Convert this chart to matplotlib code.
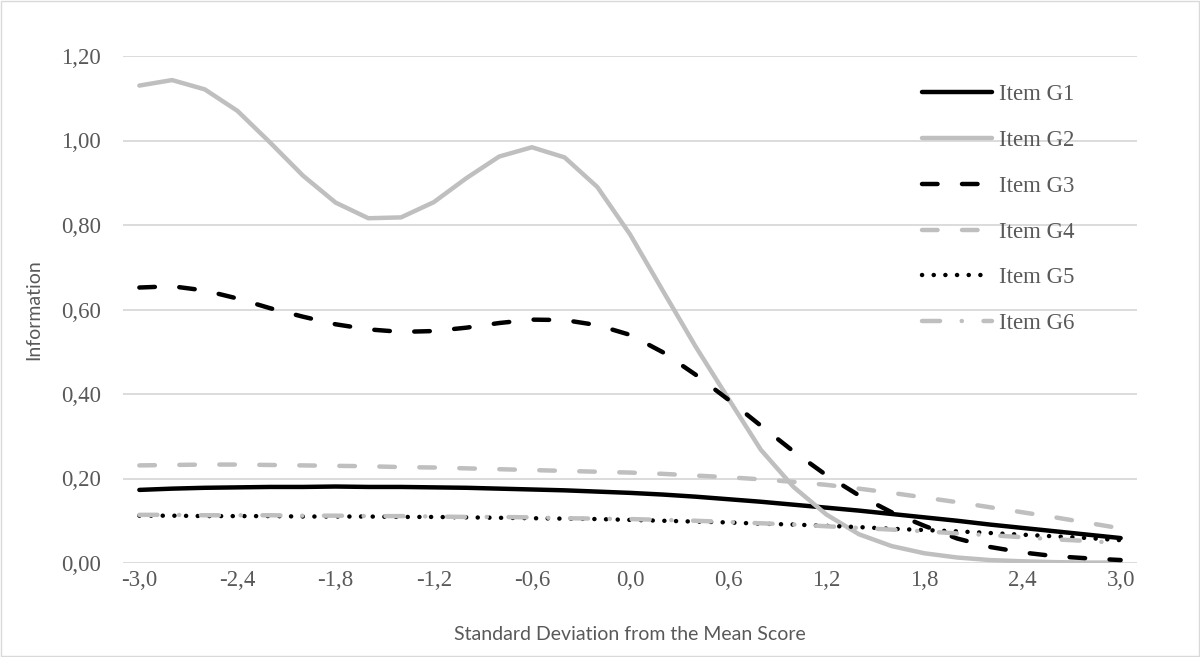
import numpy as np
import matplotlib
matplotlib.use("Agg")
import matplotlib.pyplot as plt
from matplotlib.patches import Rectangle

# x categories (standard deviations from the mean)
sd = [-3.0, -2.8, -2.6, -2.4, -2.2, -2.0, -1.8, -1.6, -1.4, -1.2, -1.0,
      -0.8, -0.6, -0.4, -0.2, 0.0, 0.2, 0.4, 0.6, 0.8, 1.0,
      1.2, 1.4, 1.6, 1.8, 2.0, 2.2, 2.4, 2.6, 2.8, 3.0]

item_g1 = [0.173, 0.176, 0.178, 0.179, 0.180, 0.180, 0.181, 0.180, 0.180, 0.179, 0.178,
           0.176, 0.174, 0.172, 0.169, 0.166, 0.162, 0.157, 0.151, 0.145, 0.138,
           0.131, 0.124, 0.116, 0.108, 0.100, 0.091, 0.083, 0.075, 0.067, 0.059]
item_g2 = [1.130, 1.143, 1.121, 1.070, 0.995, 0.917, 0.853, 0.816, 0.818, 0.854, 0.911,
           0.962, 0.984, 0.960, 0.890, 0.778, 0.645, 0.513, 0.390, 0.268, 0.180,
           0.115, 0.068, 0.040, 0.023, 0.013, 0.007, 0.004, 0.002, 0.001, 0.001]
item_g3 = [0.652, 0.655, 0.645, 0.626, 0.603, 0.583, 0.565, 0.553, 0.547, 0.549, 0.557,
           0.568, 0.576, 0.575, 0.563, 0.540, 0.499, 0.446, 0.387, 0.325, 0.264,
           0.208, 0.160, 0.120, 0.088, 0.058, 0.038, 0.025, 0.016, 0.011, 0.007]
item_g4 = [0.231, 0.232, 0.233, 0.233, 0.232, 0.231, 0.230, 0.229, 0.227, 0.226, 0.224,
           0.222, 0.220, 0.218, 0.216, 0.214, 0.211, 0.207, 0.203, 0.198, 0.192,
           0.185, 0.176, 0.166, 0.155, 0.144, 0.132, 0.120, 0.108, 0.095, 0.082]
item_g5 = [0.112, 0.112, 0.111, 0.111, 0.111, 0.110, 0.110, 0.110, 0.109, 0.109, 0.108,
           0.107, 0.106, 0.105, 0.104, 0.102, 0.100, 0.098, 0.096, 0.093, 0.091,
           0.088, 0.085, 0.081, 0.078, 0.075, 0.071, 0.067, 0.063, 0.059, 0.054]
item_g6 = [0.114, 0.114, 0.113, 0.113, 0.113, 0.112, 0.112, 0.111, 0.111, 0.110, 0.109,
           0.109, 0.108, 0.106, 0.105, 0.104, 0.102, 0.100, 0.097, 0.094, 0.091,
           0.087, 0.083, 0.079, 0.075, 0.070, 0.066, 0.061, 0.056, 0.052, 0.047]

labels = ["Item G1", "Item G2", "Item G3", "Item G4", "Item G5", "Item G6"]
yticks = [0.0, 0.2, 0.4, 0.6, 0.8, 1.0, 1.2]

plt.rcParams["lines.scale_dashes"] = False

fig = plt.figure(figsize=(12, 6.57), dpi=100)
ax = fig.add_axes([123 / 1200, 1 - 563 / 657, 1014 / 1200, 507 / 657])

# chart area border
fig.patches.append(Rectangle((0.001, 0.001), 0.998, 0.998, transform=fig.transFigure,
                             fill=False, edgecolor="#d9d9d9", linewidth=1.0))

x = np.arange(len(sd))
black = "#000000"
grey = "#bfbfbf"
lw = 3.2

ax.plot(x, item_g1, color=black, lw=lw, solid_capstyle="round", label=labels[0])
ax.plot(x, item_g2, color=grey, lw=lw, solid_capstyle="round", label=labels[1])
ax.plot(x, item_g3, color=black, lw=lw, linestyle=(0, (11.2, 17.6)),
        dash_capstyle="round", label=labels[2])
ax.plot(x, item_g4, color=grey, lw=lw, linestyle=(0, (11.2, 17.6)),
        dash_capstyle="round", label=labels[3])
ax.plot(x, item_g5, color=black, lw=lw, linestyle=(0, (0.1, 8.3)),
        dash_capstyle="round", label=labels[4])
ax.plot(x, item_g6, color=grey, lw=lw, linestyle=(0, (13.0, 15.6, 0.1, 15.6)),
        dash_capstyle="round", label=labels[5])

ax.set_xlim(-0.5, len(sd) - 0.5)
ax.set_ylim(0, 1.2)

tick_pos = x[::3]
ax.set_xticks(tick_pos)
ax.set_xticklabels([f"{sd[i]:.1f}".replace(".", ",") for i in tick_pos])
ax.set_yticks(yticks)
ax.set_yticklabels([f"{v:.2f}".replace(".", ",") for v in yticks])

for lab in ax.get_xticklabels() + ax.get_yticklabels():
    lab.set_fontfamily("Liberation Serif")
    lab.set_fontsize(16.5)
    lab.set_color("#595959")
ax.tick_params(axis="both", length=0)
ax.tick_params(axis="x", pad=5)
ax.tick_params(axis="y", pad=16)

ax.grid(axis="y", color="#d9d9d9", lw=1.3)
ax.set_axisbelow(True)
for s in ax.spines.values():
    s.set_visible(False)

ax.set_xlabel("Standard Deviation from the Mean Score", fontfamily="Lato",
              fontsize=14, color="#595959", labelpad=25)
ax.set_ylabel("Information", fontfamily="Lato", fontsize=14, color="#595959", labelpad=13)

leg = ax.legend(loc="upper left", bbox_to_anchor=(0.768, 0.985), frameon=False,
                handlelength=3.05, handletextpad=0.3, labelspacing=1.08,
                prop={"family": "Liberation Serif", "size": 16.5})
for t in leg.get_texts():
    t.set_color("#595959")

fig.savefig("out.png", dpi=100)
